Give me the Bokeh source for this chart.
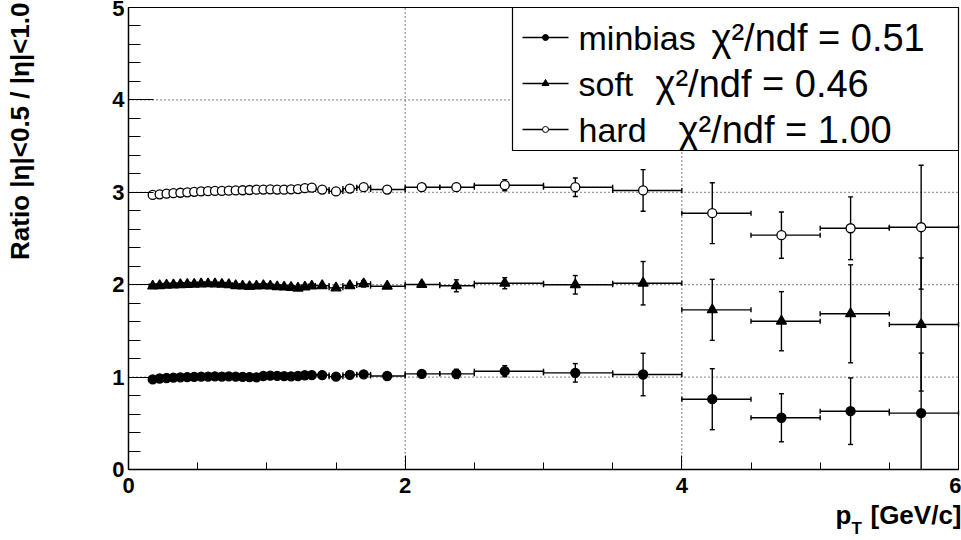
import numpy as np
from bokeh.plotting import figure
from bokeh.models import Range1d, FixedTicker, Label, ColumnDataSource, LinearAxis
from bokeh.embed import file_html
from bokeh.resources import INLINE

# ---------------- data ----------------
pt = [0.175, 0.225, 0.275, 0.325, 0.375, 0.425, 0.475, 0.525, 0.575, 0.625,
      0.675, 0.725, 0.775, 0.825, 0.875, 0.925, 0.975, 1.025, 1.075, 1.125,
      1.175, 1.225, 1.275, 1.325, 1.40, 1.50, 1.60, 1.70, 1.87, 2.12,
      2.37, 2.72, 3.23, 3.72, 4.22, 4.72, 5.22, 5.73]
pt_lo = [0.15, 0.20, 0.25, 0.30, 0.35, 0.40, 0.45, 0.50, 0.55, 0.60,
         0.65, 0.70, 0.75, 0.80, 0.85, 0.90, 0.95, 1.00, 1.05, 1.10,
         1.15, 1.20, 1.25, 1.30, 1.35, 1.45, 1.55, 1.65, 1.75, 2.00,
         2.25, 2.50, 3.00, 3.50, 4.00, 4.50, 5.00, 5.50]
pt_hi = [0.20, 0.25, 0.30, 0.35, 0.40, 0.45, 0.50, 0.55, 0.60, 0.65,
         0.70, 0.75, 0.80, 0.85, 0.90, 0.95, 1.00, 1.05, 1.10, 1.15,
         1.20, 1.25, 1.30, 1.35, 1.45, 1.55, 1.65, 1.75, 2.00, 2.25,
         2.50, 3.00, 3.50, 4.00, 4.50, 5.00, 5.50, 6.00]

minbias = [0.975, 0.985, 0.990, 0.995, 0.998, 1.000, 1.003, 1.005, 1.006, 1.008,
           1.006, 1.007, 1.005, 1.003, 1.000, 0.998, 1.012, 1.015, 1.013, 1.010,
           1.008, 1.012, 1.020, 1.022, 1.022, 1.005, 1.025, 1.030, 1.012, 1.035,
           1.035, 1.064, 1.046, 1.028, 0.761, 0.560, 0.631, 0.610]
minbias_err = [0.008, 0.008, 0.008, 0.008, 0.008, 0.008, 0.008, 0.009, 0.009, 0.009,
               0.009, 0.010, 0.010, 0.010, 0.011, 0.011, 0.012, 0.012, 0.013, 0.013,
               0.014, 0.015, 0.016, 0.017, 0.015, 0.018, 0.020, 0.030, 0.020, 0.025,
               0.050, 0.060, 0.100, 0.230, 0.330, 0.260, 0.360, 0.650]

soft = [1.985, 1.990, 1.995, 1.998, 2.000, 2.003, 2.005, 2.008, 2.010, 2.008,
        2.005, 2.000, 1.990, 1.985, 1.980, 1.985, 1.990, 1.985, 1.978, 1.975,
        1.970, 1.962, 1.975, 1.985, 1.990, 1.966, 1.990, 2.010, 1.984, 2.002,
        1.988, 2.016, 1.999, 2.016, 1.728, 1.605, 1.685, 1.569]
soft_err = [0.009, 0.009, 0.009, 0.009, 0.009, 0.009, 0.009, 0.010, 0.010, 0.010,
            0.010, 0.011, 0.011, 0.011, 0.012, 0.012, 0.013, 0.013, 0.014, 0.014,
            0.015, 0.016, 0.017, 0.018, 0.017, 0.020, 0.022, 0.035, 0.022, 0.028,
            0.065, 0.060, 0.100, 0.235, 0.330, 0.320, 0.530, 0.720]

hard = [2.972, 2.978, 2.985, 2.990, 2.995, 3.000, 3.005, 3.010, 3.012, 3.015,
        3.015, 3.018, 3.020, 3.022, 3.025, 3.028, 3.030, 3.032, 3.030, 3.028,
        3.032, 3.035, 3.045, 3.050, 3.030, 3.010, 3.040, 3.055, 3.030, 3.055,
        3.055, 3.077, 3.055, 3.020, 2.774, 2.536, 2.611, 2.622]
hard_err = [0.009, 0.009, 0.009, 0.009, 0.009, 0.009, 0.009, 0.010, 0.010, 0.010,
            0.010, 0.011, 0.011, 0.011, 0.012, 0.012, 0.013, 0.013, 0.014, 0.014,
            0.015, 0.016, 0.017, 0.018, 0.016, 0.020, 0.022, 0.030, 0.022, 0.028,
            0.040, 0.060, 0.100, 0.225, 0.330, 0.250, 0.340, 0.670]

series_names = ["minbias", "soft", "hard"]
chi2_labels = ["\u03c7\u00b2/ndf = 0.51", "\u03c7\u00b2/ndf = 0.46", "\u03c7\u00b2/ndf = 1.00"]
x_major = [0, 2, 4, 6]
y_major = [0, 1, 2, 3, 4, 5]
x_title = "[GeV/c]"
y_title = "Ratio |\u03b7|<0.5 / |\u03b7|<1.0"

# ---------------- layout constants ----------------
W, H = 961, 540
FL, FR, FT, FB = 128, 958, 7, 469   # plot box edges in canvas px
XA, XB = x_major[0], x_major[-1]
YA, YB = y_major[0], y_major[-1]


def sx(px):   # canvas px -> data x
    return XA + (px - FL) / (FR - FL) * (XB - XA)


def sy(py):   # canvas px (from top) -> data y
    return YA + (FB - py) / (FB - FT) * (YB - YA)


FONT = "Liberation Sans"

# the frame spans the whole canvas; axes are pinned at the plot box edges
p = figure(width=W, height=H, x_range=Range1d(sx(0), sx(W)), y_range=Range1d(sy(H), sy(0)),
           output_backend="svg", toolbar_location=None,
           x_axis_location=None, y_axis_location=None,
           min_border=0, min_border_left=0, min_border_right=0,
           min_border_top=0, min_border_bottom=0)
p.background_fill_color = "white"
p.border_fill_color = "white"
p.outline_line_color = None
p.grid.visible = False

xaxis = LinearAxis(fixed_location=YA, bounds=(XA, XB),
                   ticker=FixedTicker(ticks=x_major, minor_ticks=list(np.arange(XA, XB + 0.01, 0.5))))
yaxis = LinearAxis(fixed_location=XA, bounds=(YA, YB),
                   ticker=FixedTicker(ticks=y_major, minor_ticks=list(np.arange(YA, YB + 0.01, 0.2))))
p.add_layout(xaxis, "below")
p.add_layout(yaxis, "left")

for ax in (xaxis, yaxis):
    ax.axis_line_color = "black"
    ax.axis_line_width = 1.5
    ax.major_tick_line_color = "black"
    ax.minor_tick_line_color = "black"
    ax.major_tick_line_width = 1
    ax.minor_tick_line_width = 1
    ax.major_tick_out = 0
    ax.minor_tick_out = 0
    ax.major_label_text_font = FONT
    ax.major_label_text_font_style = "bold"
    ax.major_label_text_font_size = "22px"
    ax.major_label_text_color = "black"

xaxis.major_tick_in = 14
xaxis.minor_tick_in = 7
xaxis.major_label_standoff = 8
yaxis.major_tick_in = 25
yaxis.minor_tick_in = 12
yaxis.major_label_standoff = 4

# dotted grid at the inner major ticks
gx = [t for t in x_major if XA < t < XB]
gy = [t for t in y_major if YA < t < YB]
p.segment(x0=gx, y0=[YA] * len(gx), x1=gx, y1=[YB] * len(gx),
          line_color="black", line_dash="1 3", line_width=1)
p.segment(x0=[XA] * len(gy), y0=gy, x1=[XB] * len(gy), y1=gy,
          line_color="black", line_dash="1 3", line_width=1)

# plot box (top and right sides)
p.segment(x0=[XA, XB], y0=[YB, YA], x1=[XB, XB], y1=[YB, YB], line_color="black", line_width=1)

LW = 1.4
styles = [
    dict(marker="circle", size=9, fill_color="black", line_color="black"),
    dict(marker="triangle", size=10, fill_color="black", line_color="black"),
    dict(marker="circle", size=9, fill_color="white", line_color="black"),
]
values = [minbias, soft, hard]
errors = [minbias_err, soft_err, hard_err]

for vals, errs, st in zip(values, errors, styles):
    v = np.array(vals)
    e = np.array(errs)
    ylo = v - e
    ylo_draw = np.maximum(ylo, YA)
    ylo_cap = np.where(ylo >= YA, ylo, np.nan)
    src = ColumnDataSource(dict(x=pt, lo=pt_lo, hi=pt_hi, y=v, ylo=ylo_draw, ycap=ylo_cap, yhi=v + e))
    p.segment(x0="x", y0="ylo", x1="x", y1="yhi", source=src, line_color="black", line_width=LW)
    p.segment(x0="lo", y0="y", x1="hi", y1="y", source=src, line_color="black", line_width=LW)
    p.scatter(x="x", y="yhi", source=src, marker="dash", size=5, line_color="black", line_width=LW)
    p.scatter(x="x", y="ycap", source=src, marker="dash", size=5, line_color="black", line_width=LW)
    p.scatter(x="lo", y="y", source=src, marker="dash", angle=np.pi / 2, size=5,
              line_color="black", line_width=LW)
    p.scatter(x="hi", y="y", source=src, marker="dash", angle=np.pi / 2, size=5,
              line_color="black", line_width=LW)
    p.scatter(x="x", y="y", source=src, line_width=1.3, **st)

# ---------------- legend box ----------------
LEG_L, LEG_R, LEG_T, LEG_B = 512, 958, 7, 150
p.quad(left=[sx(LEG_L)], right=[sx(LEG_R)], top=[sy(LEG_T)], bottom=[sy(LEG_B)],
       fill_color="white", line_color="black", line_width=1.2)
row_y = [37, 83, 129]
chi_x = [711, 655, 678]
for name, chi, st, ry, cx in zip(series_names, chi2_labels, styles, row_y, chi_x):
    p.segment(x0=[sx(522)], y0=[sy(ry)], x1=[sx(568)], y1=[sy(ry)], line_color="black", line_width=1.4)
    st2 = dict(st)
    st2["size"] = 6 if st["marker"] == "circle" else 7
    p.scatter(x=[sx(545)], y=[sy(ry)], line_width=1.0, **st2)
    p.add_layout(Label(x=sx(578), y=sy(ry), text=name, text_font=FONT, text_font_size="34px",
                       text_baseline="middle", text_align="left", text_color="black"))
    p.add_layout(Label(x=sx(cx), y=sy(ry), text=chi, text_font=FONT, text_font_size="38px",
                       text_baseline="middle", text_align="left", text_color="black"))

# ---------------- axis titles ----------------
title_kw = dict(text_font=FONT, text_font_style="bold", text_color="black", text_baseline="alphabetic")
p.add_layout(Label(x=sx(19), y=sy(2), text=y_title, angle=np.pi / 2,
                   text_align="right", text_font_size="26px", **title_kw))
p.add_layout(Label(x=sx(961), y=sy(514), text=x_title, text_align="right",
                   text_font_size="26px", **title_kw))
p.add_layout(Label(x=sx(835), y=sy(514), text="p", text_align="left",
                   text_font_size="26px", **title_kw))
p.add_layout(Label(x=sx(851), y=sy(528), text="T", text_align="left",
                   text_font_size="17px", **title_kw))

open("out.html", "w").write(file_html(p, INLINE))
